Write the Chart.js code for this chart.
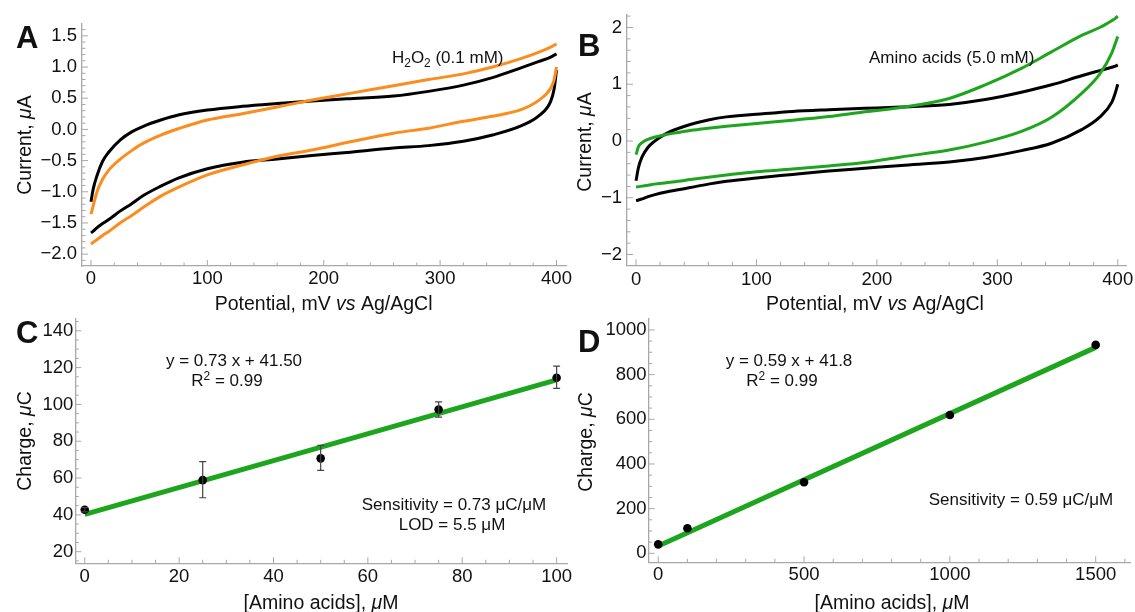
<!DOCTYPE html>
<html>
<head>
<meta charset="utf-8">
<script src="https://cdn.jsdelivr.net/npm/chart.js@4.4.0/dist/chart.umd.min.js"></script>
<style>
body { margin: 0; background: #fff; }
#wrap { position: relative; width: 1135px; height: 612px; }
#wrap canvas { position: absolute; left: 0; top: 0; }
</style>
</head>
<body>
<div id="wrap">
<canvas id="chartA" width="1135" height="612"></canvas>
<canvas id="chartB" width="1135" height="612"></canvas>
<canvas id="chartC" width="1135" height="612"></canvas>
<canvas id="chartD" width="1135" height="612"></canvas>
</div>
<script>
const FONT = "'Liberation Sans', Arial, sans-serif";
const BLACK = '#000000';
const ORANGE = '#fb8c1e';
const GREEN = '#1ea51e';
const AXIS = '#a8a8a8';

// potential (mV) where the voltammograms were read
const potential = [0, 2, 5, 10, 15, 25, 35, 45, 60, 75, 100, 130, 160, 190, 220, 260, 290, 320, 345, 370, 385, 395, 398, 400];

// panel A, current in uA (forward = upper branch, reverse = lower branch)
const aBlackFwd  = [-1.16, -0.95, -0.75, -0.51, -0.37, -0.17, -0.04, 0.05, 0.15, 0.23, 0.31, 0.37, 0.415, 0.455, 0.49, 0.535, 0.61, 0.71, 0.83, 0.99, 1.09, 1.16, 1.19, 1.21];
const aBlackRev  = [-1.66, -1.63, -1.58, -1.51, -1.45, -1.31, -1.19, -1.06, -0.91, -0.78, -0.63, -0.525, -0.475, -0.42, -0.37, -0.30, -0.26, -0.19, -0.09, 0.06, 0.22, 0.45, 0.65, 0.95];
const aOrangeFwd = [-1.36, -1.22, -1.01, -0.80, -0.66, -0.48, -0.34, -0.22, -0.09, 0.01, 0.15, 0.25, 0.36, 0.47, 0.57, 0.70, 0.80, 0.89, 1.00, 1.14, 1.24, 1.32, 1.35, 1.37];
const aOrangeRev = [-1.84, -1.81, -1.77, -1.70, -1.64, -1.50, -1.38, -1.25, -1.07, -0.93, -0.73, -0.57, -0.43, -0.33, -0.21, -0.06, 0.02, 0.13, 0.21, 0.32, 0.47, 0.66, 0.80, 1.00];

// panel B, current in uA
const bBlackFwd = [-0.70, -0.47, -0.28, -0.11, -0.01, 0.13, 0.22, 0.29, 0.37, 0.425, 0.47, 0.52, 0.55, 0.575, 0.60, 0.645, 0.73, 0.86, 0.99, 1.15, 1.24, 1.30, 1.32, 1.34];
const bBlackRev = [-1.05, -1.04, -1.02, -0.98, -0.95, -0.90, -0.86, -0.82, -0.76, -0.71, -0.65, -0.59, -0.53, -0.48, -0.43, -0.37, -0.29, -0.17, -0.04, 0.20, 0.42, 0.68, 0.85, 1.00];
const bGreenFwd = [-0.24, -0.10, -0.03, 0.03, 0.065, 0.115, 0.15, 0.185, 0.225, 0.26, 0.31, 0.365, 0.43, 0.515, 0.59, 0.75, 0.99, 1.28, 1.57, 1.86, 2.00, 2.12, 2.16, 2.20];
const bGreenRev = [-0.81, -0.805, -0.795, -0.78, -0.76, -0.735, -0.71, -0.68, -0.64, -0.60, -0.54, -0.495, -0.44, -0.38, -0.28, -0.16, -0.02, 0.17, 0.42, 0.84, 1.18, 1.55, 1.72, 1.84];

// panel C, charge (uC) vs amino acids (uM)
const cConc = [0, 25, 50, 75, 100];
const cCharge = [42.8, 58.9, 70.7, 97.2, 114.5];
const cErrLow = [41.6, 49.3, 64.2, 93.1, 108.7];
const cErrHigh = [44.0, 68.9, 77.8, 101.4, 120.8];
const cFitX = [0, 100];
const cFitY = [40.3, 113.3];

// panel D
const dConc = [0, 100, 500, 1000, 1500];
const dCharge = [40, 112, 318, 619, 933];
const dFitX = [0, 1500];
const dFitY = [33, 922];

// tick labels
const aTicksX = [0, 100, 200, 300, 400];
const aTicksY = [-2, -1.5, -1, -0.5, 0, 0.5, 1, 1.5];
const bTicksX = [0, 100, 200, 300, 400];
const bTicksY = [-2, -1, 0, 1, 2];
const cTicksX = [0, 20, 40, 60, 80, 100];
const cTicksY = [20, 40, 60, 80, 100, 120, 140];
const dTicksX = [0, 500, 1000, 1500];
const dTicksY = [0, 200, 400, 600, 800, 1000];

function xy(xs, ys) {
    return xs.map(function(x, i) { return { x: x, y: ys[i] }; });
}

function curve(xs, ys, color, width) {
    return {
        data: xy(xs, ys),
        showLine: true,
        borderColor: color,
        backgroundColor: color,
        borderWidth: width,
        pointRadius: 0,
        cubicInterpolationMode: 'monotone'
    };
}

function dots(xs, ys) {
    return {
        data: xy(xs, ys),
        showLine: false,
        pointRadius: 4.3,
        backgroundColor: BLACK,
        borderColor: BLACK,
        borderWidth: 0
    };
}

function minus(v, digits) {
    const s = Math.abs(v).toFixed(digits);
    return v < 0 ? '\u2212' + s : s;
}

// extra drawing per canvas: minor ticks, error bars and texts
const extras = {
    chartA: {
        minorX: 20, minorY: 0.1,
        texts: [
            { parts: [{ t: 'A' }], x: 16, y: 48, size: 31, bold: true },
            { parts: [{ t: 'Current, ' }, { t: '\u03bc', i: true }, { t: 'A' }], x: 30.5, y: 145, size: 19.5, align: 'center', rot: -Math.PI / 2 },
            { parts: [{ t: 'Potential, mV ' }, { t: 'vs', i: true }, { t: ' Ag/AgCl' }], x: 323.6, y: 310, size: 19.5, align: 'center' },
            { parts: [{ t: 'H' }, { t: '2', sub: true }, { t: 'O' }, { t: '2', sub: true }, { t: ' (0.1 mM)' }], x: 392, y: 63, size: 17 }
        ]
    },
    chartB: {
        minorX: 20, minorY: 0.2,
        texts: [
            { parts: [{ t: 'B' }], x: 578, y: 56, size: 31, bold: true },
            { parts: [{ t: 'Current, ' }, { t: '\u03bc', i: true }, { t: 'A' }], x: 591.2, y: 142, size: 19.5, align: 'center', rot: -Math.PI / 2 },
            { parts: [{ t: 'Potential, mV ' }, { t: 'vs', i: true }, { t: ' Ag/AgCl' }], x: 875, y: 310, size: 19.5, align: 'center' },
            { parts: [{ t: 'Amino acids (5.0 mM)' }], x: 869, y: 63, size: 17 }
        ]
    },
    chartC: {
        minorX: 5, minorY: 5,
        err: { x: cConc, lo: cErrLow, hi: cErrHigh },
        texts: [
            { parts: [{ t: 'C' }], x: 16, y: 343, size: 31, bold: true },
            { parts: [{ t: 'Charge, ' }, { t: '\u03bc', i: true }, { t: 'C' }], x: 30.5, y: 441, size: 19.5, align: 'center', rot: -Math.PI / 2 },
            { parts: [{ t: '[Amino acids], ' }, { t: '\u03bc', i: true }, { t: 'M' }], x: 321, y: 609, size: 19.5, align: 'center' },
            { parts: [{ t: 'y = 0.73 x + 41.50' }], x: 234, y: 366, size: 17, align: 'center' },
            { parts: [{ t: 'R' }, { t: '2', sup: true }, { t: ' = 0.99' }], x: 227, y: 386, size: 17, align: 'center' },
            { parts: [{ t: 'Sensitivity = 0.73 \u03bcC/\u03bcM' }], x: 454, y: 510, size: 17, align: 'center' },
            { parts: [{ t: 'LOD = 5.5 \u03bcM' }], x: 452, y: 530, size: 17, align: 'center' }
        ]
    },
    chartD: {
        minorX: 100, minorY: 50,
        texts: [
            { parts: [{ t: 'D' }], x: 578, y: 352, size: 31, bold: true },
            { parts: [{ t: 'Charge, ' }, { t: '\u03bc', i: true }, { t: 'C' }], x: 592, y: 442, size: 19.5, align: 'center', rot: -Math.PI / 2 },
            { parts: [{ t: '[Amino acids], ' }, { t: '\u03bc', i: true }, { t: 'M' }], x: 892, y: 609, size: 19.5, align: 'center' },
            { parts: [{ t: 'y = 0.59 x + 41.8' }], x: 789, y: 366, size: 17, align: 'center' },
            { parts: [{ t: 'R' }, { t: '2', sup: true }, { t: ' = 0.99' }], x: 782, y: 386, size: 17, align: 'center' },
            { parts: [{ t: 'Sensitivity = 0.59 \u03bcC/\u03bcM' }], x: 1021, y: 505, size: 17, align: 'center' }
        ]
    }
};

function drawRich(ctx, item) {
    const size = item.size;
    function fontOf(p) {
        const s = (p.sub || p.sup) ? size * 0.7 : size;
        return (p.i ? 'italic ' : '') + (item.bold ? 'bold ' : '') + s + 'px ' + FONT;
    }
    let w = 0;
    item.parts.forEach(function(p) { ctx.font = fontOf(p); w += ctx.measureText(p.t).width; });
    ctx.save();
    ctx.translate(item.x, item.y);
    if (item.rot) ctx.rotate(item.rot);
    let cx = item.align === 'center' ? -w / 2 : 0;
    ctx.fillStyle = '#111';
    ctx.textAlign = 'left';
    ctx.textBaseline = 'alphabetic';
    item.parts.forEach(function(p) {
        ctx.font = fontOf(p);
        const dy = p.sub ? size * 0.25 : (p.sup ? -size * 0.38 : 0);
        ctx.fillText(p.t, cx, dy);
        cx += ctx.measureText(p.t).width;
    });
    ctx.restore();
}

function drawTicks(ctx, scale, ca, step, majors, horizontal) {
    ctx.beginPath();
    for (let k = Math.ceil(scale.min / step - 1e-9); k * step <= scale.max + 1e-9; k++) {
        const v = k * step;
        const major = majors.some(function(m) { return Math.abs(m - v) < step / 10; });
        const len = major ? 6 : 3.5;
        const p = scale.getPixelForValue(v);
        if (horizontal) {
            ctx.moveTo(p, ca.bottom);
            ctx.lineTo(p, ca.bottom - len);
        } else {
            ctx.moveTo(ca.left, p);
            ctx.lineTo(ca.left + len, p);
        }
    }
    ctx.stroke();
}

const decor = {
    id: 'decor',
    beforeDatasetsDraw(chart) {
        const ex = extras[chart.canvas.id];
        const ctx = chart.ctx;
        const ca = chart.chartArea;
        ctx.save();
        ctx.strokeStyle = AXIS;
        ctx.lineWidth = 1;
        drawTicks(ctx, chart.scales.x, ca, ex.minorX, chart.scales.x.ticks.map(t => t.value), true);
        drawTicks(ctx, chart.scales.y, ca, ex.minorY, chart.scales.y.ticks.map(t => t.value), false);
        ctx.restore();
    },
    afterDatasetsDraw(chart) {
        const ex = extras[chart.canvas.id];
        if (!ex.err) return;
        const ctx = chart.ctx;
        const xs = chart.scales.x, ys = chart.scales.y;
        ctx.save();
        ctx.strokeStyle = '#444';
        ctx.lineWidth = 1.2;
        ex.err.x.forEach(function(v, i) {
            const px = xs.getPixelForValue(v);
            const lo = ys.getPixelForValue(ex.err.lo[i]);
            const hi = ys.getPixelForValue(ex.err.hi[i]);
            ctx.beginPath();
            ctx.moveTo(px, lo); ctx.lineTo(px, hi);
            ctx.moveTo(px - 3.5, lo); ctx.lineTo(px + 3.5, lo);
            ctx.moveTo(px - 3.5, hi); ctx.lineTo(px + 3.5, hi);
            ctx.stroke();
        });
        ctx.restore();
    },
    afterDraw(chart) {
        const ex = extras[chart.canvas.id];
        ex.texts.forEach(function(t) { drawRich(chart.ctx, t); });
    }
};

function makeChart(id, cfg) {
    const area = cfg.area; // left, top, right, bottom of the plot frame
    return new Chart(document.getElementById(id), {
        type: 'scatter',
        data: { datasets: cfg.datasets },
        options: {
            responsive: false,
            animation: false,
            devicePixelRatio: 1,
            events: [],
            layout: {
                padding: { left: area[0] - 60, top: area[1], right: 1135 - area[2], bottom: 612 - area[3] - 40 }
            },
            plugins: { legend: { display: false }, tooltip: { enabled: false } },
            scales: {
                x: {
                    type: 'linear',
                    min: cfg.xRange[0],
                    max: cfg.xRange[1],
                    grid: { display: false, drawTicks: false },
                    border: { display: true, color: AXIS, width: 1.3 },
                    ticks: {
                        font: { family: FONT, size: 18.5 },
                        color: '#111',
                        padding: cfg.xPad,
                        maxRotation: 0,
                        autoSkip: false,
                        callback: v => String(v)
                    },
                    afterBuildTicks: s => { s.ticks = cfg.xTicks.map(v => ({ value: v })); },
                    afterFit: s => { s.height = 40; s.paddingLeft = 0; s.paddingRight = 0; }
                },
                y: {
                    type: 'linear',
                    min: cfg.yRange[0],
                    max: cfg.yRange[1],
                    grid: { display: false, drawTicks: false },
                    border: { display: true, color: AXIS, width: 1.3 },
                    ticks: {
                        font: { family: FONT, size: 18.5 },
                        color: '#111',
                        padding: cfg.yPad,
                        autoSkip: false,
                        callback: cfg.yFormat
                    },
                    afterBuildTicks: s => { s.ticks = cfg.yTicks.map(v => ({ value: v })); },
                    afterFit: s => { s.width = 60; s.paddingTop = 0; s.paddingBottom = 0; }
                }
            }
        },
        plugins: [decor]
    });
}

makeChart('chartA', {
    area: [82, 24, 566.5, 266],
    xRange: [-7.7, 408.6],
    yRange: [-2.19, 1.69],
    xTicks: aTicksX, yTicks: aTicksY,
    xPad: 2, yPad: 5,
    yFormat: v => minus(v, 1),
    datasets: [
        curve(potential, aOrangeFwd, ORANGE, 3),
        curve(potential, aOrangeRev, ORANGE, 3),
        curve(potential, aBlackFwd, BLACK, 3),
        curve(potential, aBlackRev, BLACK, 3)
    ]
});

makeChart('chartB', {
    area: [627, 15, 1126.8, 265.3],
    xRange: [-7.5, 407.5],
    yRange: [-2.19, 2.22],
    xTicks: bTicksX, yTicks: bTicksY,
    xPad: 3.5, yPad: 5,
    yFormat: v => minus(v, 0),
    datasets: [
        curve(potential, bGreenFwd, GREEN, 3),
        curve(potential, bGreenRev, GREEN, 3),
        curve(potential, bBlackFwd, BLACK, 3),
        curve(potential, bBlackRev, BLACK, 3)
    ]
});

makeChart('chartC', {
    area: [75.3, 319, 567, 563.3],
    xRange: [-2.0, 102.2],
    yRange: [13.7, 146.4],
    xTicks: cTicksX, yTicks: cTicksY,
    xPad: 2.3, yPad: 2,
    yFormat: v => String(v),
    datasets: [
        dots(cConc, cCharge),
        curve(cFitX, cFitY, GREEN, 5)
    ]
});

makeChart('chartD', {
    area: [648.6, 319, 1132, 562.3],
    xRange: [-33, 1620],
    yRange: [-40.3, 1049],
    xTicks: dTicksX, yTicks: dTicksY,
    xPad: 1.5, yPad: 2,
    yFormat: v => String(v),
    datasets: [
        dots(dConc, dCharge),
        curve(dFitX, dFitY, GREEN, 5)
    ]
});
</script>
</body>
</html>
